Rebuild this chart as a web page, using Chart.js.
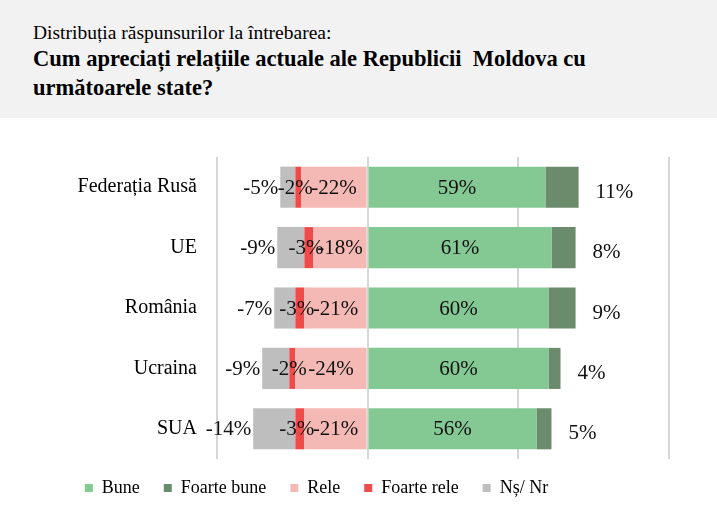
<!DOCTYPE html>
<html>
<head>
<meta charset="utf-8">
<script src="https://cdn.jsdelivr.net/npm/chart.js@4.4.1/dist/chart.umd.min.js"></script>
<style>
  html, body { margin: 0; padding: 0; background: #ffffff; }
  #page { position: relative; width: 717px; height: 528px; overflow: hidden; }
  #band { position: absolute; left: 0; top: 0; width: 717px; height: 118px; background: #f2f2f2; }
  .t { position: absolute; left: 33px; white-space: pre; color: #000; font-family: "Liberation Serif", serif; }
  #t1 { top: 21px; font-size: 19.5px; line-height: 23px; }
  #t2 { top: 45px; font-size: 22.5px; line-height: 27px; font-weight: bold; }
  #t3 { top: 74px; font-size: 22.5px; line-height: 27px; font-weight: bold; }
  #wrap { position: absolute; left: 0; top: 0; width: 717px; height: 528px; }
</style>
</head>
<body>
<div id="page">
  <div id="band"></div>
  <div class="t" id="t1">Distribuția răspunsurilor la întrebarea:</div>
  <div class="t" id="t2">Cum apreciați relațiile actuale ale Republicii  Moldova cu</div>
  <div class="t" id="t3">următoarele state?</div>
  <div id="wrap"><canvas id="c"></canvas></div>
</div>
<script>
// ---- data ----
const categories = ["Federația Rusă", "UE", "România", "Ucraina", "SUA"];
const seriesNames = ["Bune", "Foarte bune", "Rele", "Foarte rele", "Nș/ Nr"];
const bune       = [59, 61, 60, 60, 56];
const foarteBune = [11, 8, 9, 4, 5];
const rele       = [-22, -18, -21, -24, -21];
const foarteRele = [-2, -3, -3, -2, -3];
const nsNr       = [-5, -9, -7, -9, -14];
const axisTicks  = [-50, 0, 50, 100];

// ---- styles ----
const colors = ["#84c893", "#6b8b6d", "#f4b9b5", "#ef4b4b", "#bebebe"];
const labelModes = ["center", "outsideRight", "center", "centerShift", "outsideLeft"];
const serif = '"Liberation Serif", serif';

const values = [bune, foarteBune, rele, foarteRele, nsNr];
const datasets = values.map((arr, i) => ({
  label: seriesNames[i],
  data: arr,
  backgroundColor: colors[i],
  borderWidth: 0,
  barPercentage: 0.68,
  categoryPercentage: 1.0,
  stack: 's'
}));

const segLabels = {
  id: 'segLabels',
  afterDatasetsDraw(chart) {
    const ctx = chart.ctx;
    ctx.save();
    ctx.font = '21px ' + serif;
    ctx.fillStyle = '#111';
    ctx.textBaseline = 'middle';
    chart.data.datasets.forEach((ds, di) => {
      const meta = chart.getDatasetMeta(di);
      const mode = labelModes[di];
      meta.data.forEach((bar, i) => {
        const v = ds.data[i];
        const txt = v + '%';
        const p = bar.getProps(['x', 'y', 'base'], true);
        const lo = Math.min(p.x, p.base), hi = Math.max(p.x, p.base);
        if (mode === 'center') {
          ctx.textAlign = 'center';
          ctx.fillText(txt, (lo + hi) / 2, p.y + 1);
        } else if (mode === 'centerShift') {
          ctx.textAlign = 'center';
          ctx.fillText(txt, (lo + hi) / 2 - 3, p.y + 1);
        } else if (mode === 'outsideRight') {
          ctx.textAlign = 'left';
          ctx.fillText(txt, hi + 17, p.y + 5);
        } else if (mode === 'outsideLeft') {
          ctx.textAlign = 'right';
          ctx.fillText(txt, lo - 2, p.y + 1);
        }
      });
    });
    ctx.restore();
  }
};

const legendShift = {
  id: 'legendShift',
  afterLayout(chart) {
    const lg = chart.legend;
    if (!lg) return;
    const dx = -18, dy = -4;
    lg.left += dx; lg.right += dx;
    lg.top += dy; lg.bottom += dy;
  }
};

new Chart(document.getElementById('c'), {
  type: 'bar',
  data: { labels: categories, datasets },
  plugins: [segLabels, legendShift],
  options: {
    indexAxis: 'y',
    responsive: true,
    maintainAspectRatio: false,
    animation: false,
    layout: { padding: { top: 157, right: 48, left: 0, bottom: 17 } },
    scales: {
      x: {
        stacked: true,
        min: axisTicks[0],
        max: axisTicks[axisTicks.length - 1],
        afterBuildTicks(scale) { scale.ticks = axisTicks.map(v => ({ value: v })); },
        ticks: { display: false },
        grid: { color: '#d6d6d6', lineWidth: 2, drawTicks: false },
        border: { display: false }
      },
      y: {
        stacked: true,
        afterFit(scale) { scale.width = 217; },
        ticks: { color: '#000', font: { family: serif, size: 20 }, padding: 20 },
        grid: { display: false, drawTicks: false },
        border: { display: false }
      }
    },
    plugins: {
      title: { display: false },
      tooltip: { enabled: false },
      legend: {
        position: 'bottom',
        labels: {
          boxWidth: 8,
          boxHeight: 8,
          padding: 24,
          color: '#000',
          font: { family: serif, size: 18 }
        }
      }
    }
  }
});
</script>
</body>
</html>
